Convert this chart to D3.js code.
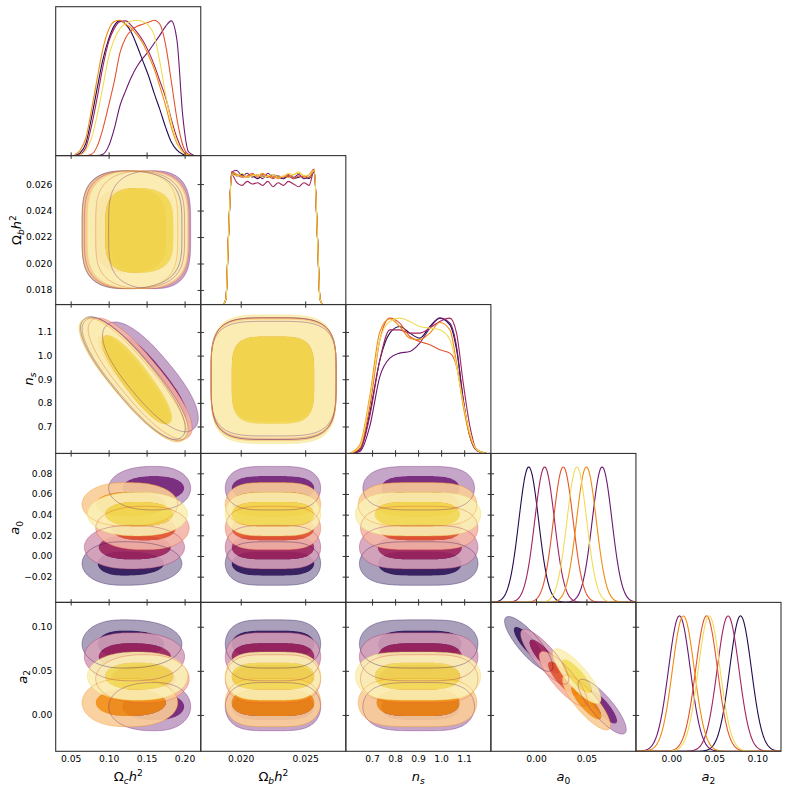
<!DOCTYPE html>
<html>
<head>
<meta charset="utf-8">
<script src="https://cdn.jsdelivr.net/npm/d3@7"></script>
<style>
  body { margin: 0; background: #fff; }
  svg text { font-family: "DejaVu Sans", sans-serif; }
</style>
</head>
<body>
<div id="chart"></div>
<script>
// six chains, coloured along inferno (dark -> light)
var colors = ["#240a50", "#6b1872", "#a0245e", "#e2552f", "#f28b0e", "#f1db55"];

// parameters: omch2, ombh2, ns, a0, a2
var domains = [[0.0303, 0.2213], [0.0169, 0.02815], [0.586, 1.216], [-0.0449, 0.0992], [-0.0412, 0.1276]];
var xTicks = [[0.05, 0.10, 0.15, 0.20], [0.020, 0.025], [0.7, 0.8, 0.9, 1.0, 1.1], [0.00, 0.05], [0.00, 0.05, 0.10]];
var yTicks = [[], [0.018, 0.020, 0.022, 0.024, 0.026], [0.7, 0.8, 0.9, 1.0, 1.1], [-0.02, 0.00, 0.02, 0.04, 0.06, 0.08], [0.00, 0.05, 0.10]];
var tickFormats = [".2f", ".3f", ".1f", ".2f", ".2f"];
var labelBase = ["Ω", "Ω", "n", "a", "a"];
var labelSub = ["c", "b", "s", "0", "2"];
var labelTail = ["h", "h", "", "", ""];
var labelSup = ["2", "2", "", "", ""];

// 1D marginal of omch2 (normalised to peak 1)
var omGrid = [0.055, 0.0625, 0.070, 0.0775, 0.085, 0.0925, 0.100, 0.1075, 0.115, 0.1225, 0.130,
              0.1375, 0.145, 0.1525, 0.160, 0.1675, 0.175, 0.1825, 0.190, 0.1975, 0.205, 0.2125];
var omDens = [
    [0, 0.02, 0.09, 0.28, 0.50, 0.71, 0.86, 0.96, 0.995, 0.97, 0.91, 0.81, 0.70, 0.59, 0.46, 0.34, 0.21, 0.10, 0.04, 0.01, 0, 0],
    [0, 0, 0, 0, 0, 0.01, 0.07, 0.20, 0.37, 0.48, 0.58, 0.66, 0.72, 0.77, 0.83, 0.89, 0.955, 0.995, 0.85, 0.30, 0.03, 0],
    [0, 0.01, 0.06, 0.22, 0.43, 0.66, 0.84, 0.94, 0.99, 0.995, 0.96, 0.91, 0.85, 0.77, 0.67, 0.55, 0.43, 0.27, 0.13, 0.04, 0, 0],
    [0, 0, 0, 0.01, 0.07, 0.20, 0.37, 0.55, 0.76, 0.87, 0.925, 0.955, 0.97, 0.985, 1.0, 0.97, 0.82, 0.55, 0.27, 0.08, 0.01, 0],
    [0.005, 0.04, 0.13, 0.34, 0.57, 0.79, 0.93, 0.99, 1.0, 0.97, 0.94, 0.89, 0.83, 0.74, 0.64, 0.51, 0.37, 0.21, 0.09, 0.03, 0.005, 0],
    [0, 0.005, 0.04, 0.13, 0.30, 0.51, 0.73, 0.86, 0.94, 0.975, 0.995, 1.0, 0.99, 0.96, 0.89, 0.69, 0.45, 0.25, 0.10, 0.025, 0, 0]
];

// 1D marginal of ombh2: shared edges, noisy plateau per chain
var obEdgeL = [[0.0180, 0], [0.0186, 0], [0.01885, 0.04], [0.01905, 0.5]];
var obEdgeR = [[0.02595, 0.5], [0.02615, 0.04], [0.0264, 0], [0.0272, 0]];
var obGrid = [0.0193, 0.0197, 0.0201, 0.0205, 0.0209, 0.0213, 0.0217, 0.0221, 0.0225,
              0.0229, 0.0233, 0.0237, 0.0241, 0.0245, 0.0249, 0.0253, 0.0257];
var obDens = [
    [0.97, 0.95, 0.96, 0.94, 0.95, 0.93, 0.95, 0.94, 0.96, 0.94, 0.93, 0.95, 0.93, 0.94, 0.95, 0.93, 0.99],
    [0.98, 0.99, 0.95, 0.97, 0.94, 0.96, 0.93, 0.97, 0.94, 0.95, 0.93, 0.95, 0.94, 0.96, 0.93, 0.94, 0.98],
    [0.96, 0.90, 0.88, 0.91, 0.89, 0.90, 0.88, 0.91, 0.87, 0.90, 0.88, 0.91, 0.89, 0.87, 0.90, 0.88, 0.99],
    [0.98, 0.96, 0.94, 0.95, 0.97, 0.94, 0.96, 0.95, 0.93, 0.95, 0.94, 0.96, 0.93, 0.95, 0.94, 0.96, 1.00],
    [0.97, 0.96, 0.95, 0.94, 0.96, 0.95, 0.97, 0.94, 0.95, 0.93, 0.95, 0.94, 0.96, 0.97, 0.95, 0.94, 0.99],
    [0.96, 0.95, 0.97, 0.94, 0.95, 0.96, 0.94, 0.95, 0.96, 0.94, 0.95, 0.97, 0.96, 0.98, 0.95, 0.96, 0.99]
];

// 1D marginal of ns
var nsGrid = [0.603, 0.647, 0.690, 0.734, 0.777, 0.820, 0.864, 0.907, 0.951, 0.994, 1.038, 1.067, 1.096, 1.125, 1.154, 1.197];
var nsDens = [
    [0, 0.027, 0.298, 0.692, 0.889, 0.938, 0.889, 0.852, 0.938, 1.0, 0.95, 0.766, 0.397, 0.126, 0.027, 0],
    [0, 0.015, 0.20, 0.569, 0.704, 0.741, 0.753, 0.815, 0.926, 1.0, 0.963, 0.79, 0.397, 0.126, 0.022, 0],
    [0, 0.022, 0.274, 0.692, 0.913, 0.913, 0.889, 0.889, 0.926, 0.975, 1.0, 0.889, 0.52, 0.20, 0.027, 0],
    [0, 0.04, 0.347, 0.84, 1.0, 0.963, 0.864, 0.827, 0.803, 0.766, 0.741, 0.643, 0.372, 0.126, 0.027, 0],
    [0, 0.064, 0.421, 0.90, 0.995, 0.938, 0.852, 0.84, 0.889, 0.967, 0.913, 0.667, 0.347, 0.126, 0.032, 0],
    [0, 0.052, 0.397, 0.84, 0.975, 1.0, 0.975, 0.938, 0.926, 0.913, 0.84, 0.643, 0.372, 0.15, 0.027, 0]
];

// gaussian parameters a0, a2
var a0Mean = [-0.0073, 0.0656, 0.0085, 0.027, 0.050, 0.0405];
var a2Mean = [0.0805, 0.0094, 0.066, 0.041, 0.014, 0.044];
var a0Sigma = [0.0098, 0.0098, 0.0098, 0.0098, 0.0098, 0.0098];
var a2Sigma = [0.0127, 0.0127, 0.0127, 0.0127, 0.0127, 0.0127];
var rho = [-0.83, -0.83, -0.83, -0.83, -0.83, -0.83];

// 2D contour extents (inner = 68%, outer = 95%)
var omCenter = [0.120, 0.160, 0.130, 0.148, 0.125, 0.138];
var omInner = [[0.0855, 0.173], [0.118, 0.1995], [0.087, 0.182], [0.103, 0.1886], [0.083, 0.1754], [0.0955, 0.185]];
var omOuter = [[0.065, 0.1965], [0.100, 0.208], [0.068, 0.200], [0.083, 0.206], [0.065, 0.191], [0.072, 0.204]];
var obCenter = 0.02245;
var obInner = [0.0193, 0.0257];
var obOuter = [[0.0181, 0.0270], null, [0.0177, 0.0274], [0.0188, 0.0262], [0.0188, 0.0262]]; // by partner
var nsInner = [[0.726, 1.089], [0.74, 1.08], [0.725, 1.09], [0.73, 1.09], [0.72, 1.08], [0.712, 1.081]];
var nsOuter = [[0.645, 1.160], [0.66, 1.145], [0.645, 1.16], [0.65, 1.16], [0.64, 1.155], [0.628, 1.172]];

// omch2-ns degeneracy: tip A, tip B, horizontal half width
var omnsOuterA = [[0.068, 1.155], [0.098, 1.130], [0.070, 1.150], [0.078, 1.150], [0.066, 1.150], [0.066, 1.152]];
var omnsOuterB = [[0.196, 0.655], [0.212, 0.690], [0.200, 0.650], [0.205, 0.655], [0.198, 0.645], [0.200, 0.644]];
var omnsOuterW = [0.036, 0.039, 0.036, 0.036, 0.035, 0.037];
var omnsInnerA = [[0.090, 1.085], [0.112, 1.080], [0.092, 1.085], [0.100, 1.085], [0.088, 1.085], [0.094, 1.081]];
var omnsInnerB = [[0.180, 0.720], [0.200, 0.730], [0.184, 0.715], [0.190, 0.715], [0.178, 0.715], [0.180, 0.714]];
var omnsInnerW = [0.021, 0.023, 0.022, 0.022, 0.021, 0.022];

var expo = [2.4, 4, 4, 2, 2];
var k68 = 1.2, k95 = 2.15, r68 = 1.515, r95 = 2.448;

function init() {
    var W = 789, H = 791;
    var left = 55.7, top = 6.7, pw = 145.06, ph = 148.92, n = 5;

    var svg = d3.select("#chart")
        .append("svg")
        .attr("width", W)
        .attr("height", H);

    var xS = domains.map(function(d, i) {
        return d3.scaleLinear().domain(d).range([left + i * pw, left + (i + 1) * pw]);
    });
    var yS = domains.map(function(d, i) {
        return d3.scaleLinear().domain(d).range([top + (i + 1) * ph, top + i * ph]);
    });

    // pale version of each colour for the 95% band
    var pale = colors.map(function(c) { return d3.interpolateRgb(c, "#fff")(0.57); });

    var defs = svg.append("defs");
    for (var r = 0; r < n; r++) {
        for (var c = 0; c <= r; c++) {
            defs.append("clipPath").attr("id", "clip" + r + c)
                .append("rect")
                .attr("x", left + c * pw).attr("y", top + r * ph)
                .attr("width", pw).attr("height", ph);
        }
    }

    function spow(v, e) { return Math.sign(v) * Math.pow(Math.abs(v), e); }
    var closed = d3.line().curve(d3.curveLinearClosed);
    var angles = d3.range(0, 360, 2).map(function(a) { return a * Math.PI / 180; });

    // rounded box between extents, centred on (cx, cy)
    function blob(cx, cy, x0, x1, y0, y1, ex, ey) {
        return closed(angles.map(function(t) {
            var co = Math.cos(t), si = Math.sin(t);
            return [cx + (co >= 0 ? x1 - cx : cx - x0) * spow(co, 2 / ex),
                    cy + (si >= 0 ? y1 - cy : cy - y0) * spow(si, 2 / ey)];
        }));
    }

    function extent(p, s, lvl, q) {
        var o;
        if (p === 0) { o = lvl ? omOuter[s] : omInner[s]; return { c: omCenter[s], lo: o[0], hi: o[1] }; }
        if (p === 1) { o = lvl ? obOuter[q] : obInner; return { c: obCenter, lo: o[0], hi: o[1] }; }
        if (p === 2) {
            o = lvl ? nsOuter[s] : nsInner[s];
            return { c: (nsInner[s][0] + nsInner[s][1]) / 2, lo: o[0], hi: o[1] };
        }
        var k = lvl ? k95 : k68;
        var m = p === 3 ? a0Mean[s] : a2Mean[s], sd = p === 3 ? a0Sigma[s] : a2Sigma[s];
        return { c: m, lo: m - k * sd, hi: m + k * sd };
    }

    // a0 - a2 correlated gaussian ellipse
    function gaussPath(s, lvl) {
        var rr = lvl ? r95 : r68;
        var kx = xS[3](1) - xS[3](0), ky = yS[4](0) - yS[4](1);
        var sx = a0Sigma[s] * kx, sy = a2Sigma[s] * ky, rp = -rho[s];
        var cx = xS[3](a0Mean[s]), cy = yS[4](a2Mean[s]);
        return closed(angles.map(function(t) {
            return [cx + rr * sx * Math.cos(t),
                    cy + rr * sy * (rp * Math.cos(t) + Math.sqrt(1 - rp * rp) * Math.sin(t))];
        }));
    }

    // omch2 - ns degenerate strip between two tips
    function degenPath(s, lvl) {
        var A = lvl ? omnsOuterA[s] : omnsInnerA[s];
        var B = lvl ? omnsOuterB[s] : omnsInnerB[s];
        var w = lvl ? omnsOuterW[s] : omnsInnerW[s];
        var p1 = [xS[0](A[0]), yS[2](A[1])], p2 = [xS[0](B[0]), yS[2](B[1])];
        var mx = (p1[0] + p2[0]) / 2, my = (p1[1] + p2[1]) / 2;
        var dx = p2[0] - p1[0], dy = p2[1] - p1[1];
        var a = Math.sqrt(dx * dx + dy * dy) / 2, th = Math.atan2(dy, dx);
        var b = (xS[0](w) - xS[0](0)) * Math.abs(Math.sin(th));
        return closed(angles.map(function(t) {
            var u = a * spow(Math.cos(t), 2 / 2.4), v = b * spow(Math.sin(t), 2 / 2.2);
            return [mx + u * Math.cos(th) - v * Math.sin(th), my + u * Math.sin(th) + v * Math.cos(th)];
        }));
    }

    function shapePath(r, c, s, lvl) {
        if (r === 2 && c === 0) return degenPath(s, lvl);
        if (r === 4 && c === 3) return gaussPath(s, lvl);
        var ex = extent(c, s, lvl, r), ey = extent(r, s, lvl, c);
        return blob(xS[c](ex.c), yS[r](ey.c), xS[c](ex.lo), xS[c](ex.hi),
                    yS[r](ey.hi), yS[r](ey.lo), expo[c], expo[r]);
    }

    function drawPanel(r, c) {
        var g = svg.append("g").attr("clip-path", "url(#clip" + r + c + ")");
        var outlines = [];
        colors.forEach(function(col, s) {
            var outer = shapePath(r, c, s, 1), inner = shapePath(r, c, s, 0);
            // 95% band as a ring, 68% core on its own
            g.append("path").attr("d", outer + inner).attr("fill-rule", "evenodd")
                .attr("fill", pale[s]).attr("fill-opacity", 0.9);
            g.append("path").attr("d", inner).attr("fill", col).attr("fill-opacity", 0.9);
            outlines.push(outer);
        });
        // outer contour lines stay visible through the fills
        outlines.forEach(function(d, s) {
            g.append("path").attr("d", d).attr("fill", "none")
                .attr("stroke", colors[s]).attr("stroke-opacity", 0.45).attr("stroke-width", 0.8);
        });
    }

    function marginal(i, s) {
        if (i === 0) return omGrid.map(function(x, j) { return [x, omDens[s][j]]; });
        if (i === 1) return obEdgeL.concat(obGrid.map(function(x, j) { return [x, obDens[s][j]]; }), obEdgeR);
        if (i === 2) return nsGrid.map(function(x, j) { return [x, nsDens[s][j]]; });
        var m = i === 3 ? a0Mean[s] : a2Mean[s], sd = i === 3 ? a0Sigma[s] : a2Sigma[s];
        var d = domains[i];
        return d3.range(241).map(function(j) {
            var x = d[0] + j * (d[1] - d[0]) / 240;
            return [x, Math.exp(-0.5 * Math.pow((x - m) / sd, 2))];
        });
    }

    function drawDiag(i) {
        var g = svg.append("g").attr("clip-path", "url(#clip" + i + i + ")");
        var yD = d3.scaleLinear().domain([0, 1.1]).range([top + (i + 1) * ph, top + i * ph]);
        var line = d3.line()
            .x(function(d) { return xS[i](d[0]); })
            .y(function(d) { return yD(d[1]); })
            .curve(d3.curveMonotoneX);
        colors.forEach(function(col, s) {
            g.append("path").attr("d", line(marginal(i, s)))
                .attr("fill", "none").attr("stroke", col).attr("stroke-width", 1.1);
        });
    }

    for (var i = 0; i < n; i++) drawDiag(i);
    for (var rr = 1; rr < n; rr++) {
        for (var cc = 0; cc < rr; cc++) drawPanel(rr, cc);
    }

    // inout ticks on top and right edge of the 2D panels
    for (var r2 = 1; r2 < n; r2++) {
        for (var c2 = 0; c2 < r2; c2++) {
            var tx = svg.append("g")
                .attr("transform", "translate(0," + (top + r2 * ph + 3.2) + ")")
                .call(d3.axisTop(xS[c2]).tickValues(xTicks[c2]).tickSize(6.4).tickFormat(""));
            var ty = svg.append("g")
                .attr("transform", "translate(" + (left + (c2 + 1) * pw + 3.2) + ",0)")
                .call(d3.axisLeft(yS[r2]).tickValues(yTicks[r2]).tickSize(6.4).tickFormat(""));
            [tx, ty].forEach(function(a) {
                a.select(".domain").remove();
                a.selectAll("line").attr("stroke", "#333").attr("stroke-width", 1);
            });
        }
    }

    // panel frames
    for (var r3 = 0; r3 < n; r3++) {
        for (var c3 = 0; c3 <= r3; c3++) {
            svg.append("rect")
                .attr("x", left + c3 * pw).attr("y", top + r3 * ph)
                .attr("width", pw).attr("height", ph)
                .attr("fill", "none").attr("stroke", "#333").attr("stroke-width", 1.1);
        }
    }

    function addLabel(text, i) {
        text.append("tspan").text(labelBase[i]).style("font-style", i < 2 ? "normal" : "italic");
        text.append("tspan").text(labelSub[i]).attr("dy", 3.2).attr("font-size", 9.1)
            .style("font-style", /[0-9]/.test(labelSub[i]) ? "normal" : "italic");
        if (labelTail[i]) {
            text.append("tspan").text(labelTail[i]).attr("dy", -3.2).style("font-style", "italic");
            text.append("tspan").text(labelSup[i]).attr("dy", -5).attr("font-size", 9.1);
        }
    }

    // bottom tick labels and x titles
    var bottom = top + n * ph;
    for (var c4 = 0; c4 < n; c4++) {
        var ax = svg.append("g")
            .attr("transform", "translate(0," + bottom + ")")
            .call(d3.axisBottom(xS[c4]).tickValues(xTicks[c4]).tickSize(0).tickPadding(3.9)
                .tickFormat(d3.format(tickFormats[c4])));
        ax.select(".domain").remove();
        ax.selectAll("text").attr("font-size", 9.2).attr("font-family", "DejaVu Sans").attr("fill", "#000");

        var xt = svg.append("text")
            .attr("x", left + (c4 + 0.5) * pw).attr("y", 780.5)
            .attr("text-anchor", "middle").attr("font-size", 13).attr("fill", "#000");
        addLabel(xt, c4);
    }

    // left tick labels and y titles
    for (var r5 = 1; r5 < n; r5++) {
        var ay = svg.append("g")
            .attr("transform", "translate(" + left + ",0)")
            .call(d3.axisLeft(yS[r5]).tickValues(yTicks[r5]).tickSize(0).tickPadding(3.4)
                .tickFormat(d3.format(tickFormats[r5])));
        ay.select(".domain").remove();
        ay.selectAll("text").attr("font-size", 9.2).attr("font-family", "DejaVu Sans").attr("fill", "#000");

        var bb = ay.node().getBBox();
        var cxLab = left + bb.x - 9.3;
        var cyLab = top + (r5 + 0.5) * ph;
        var yt = svg.append("text")
            .attr("transform", "translate(" + (cxLab + 4.6) + "," + cyLab + ") rotate(-90)")
            .attr("text-anchor", "middle").attr("font-size", 13).attr("fill", "#000");
        addLabel(yt, r5);
    }
}

window.onload = init;
</script>
</body>
</html>
